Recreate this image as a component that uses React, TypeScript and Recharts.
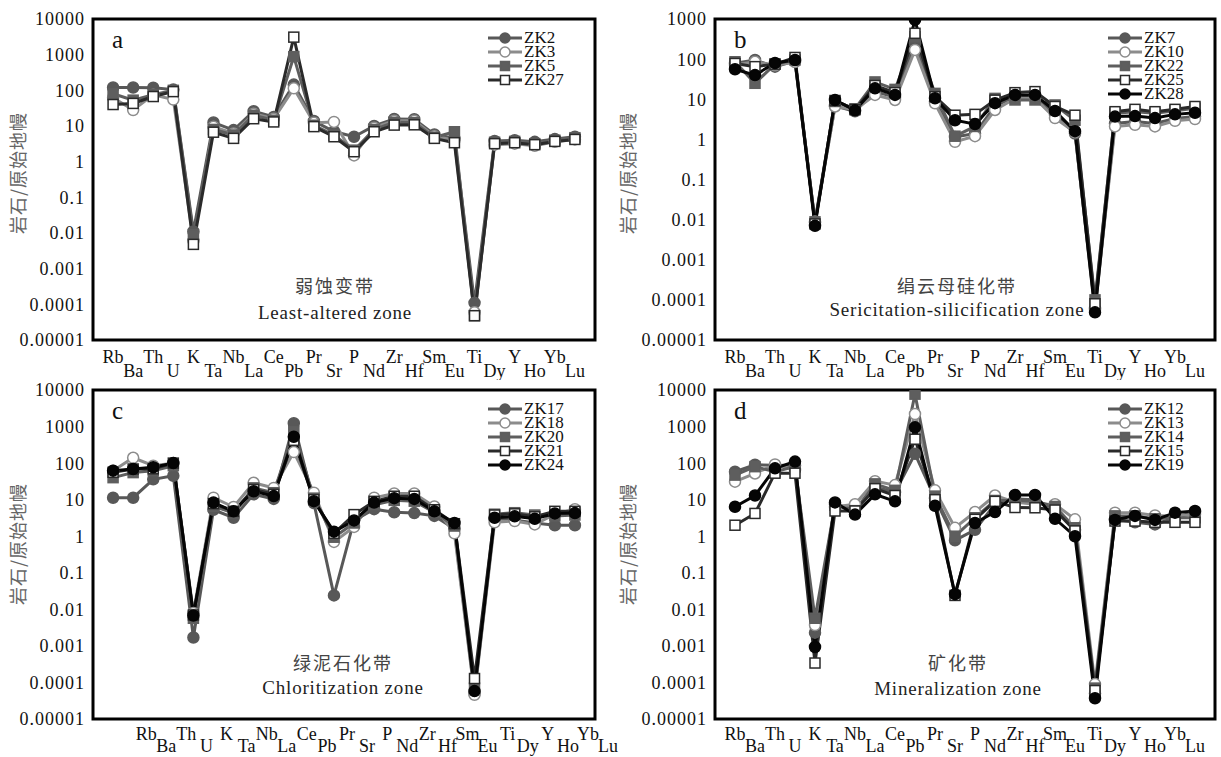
import React from 'react';
import { LineChart, Line, XAxis, YAxis, ReferenceArea } from 'recharts';

const SERIF = '"Liberation Serif", "Times New Roman", serif';
const CJK = '"Noto Sans CJK SC", sans-serif';

// element order on the x axis
const elements = ['Rb', 'Ba', 'Th', 'U', 'K', 'Ta', 'Nb', 'La', 'Ce', 'Pb', 'Pr', 'Sr', 'P', 'Nd', 'Zr', 'Hf', 'Sm', 'Eu', 'Ti', 'Dy', 'Y', 'Ho', 'Yb', 'Lu'];

const yTicks10k = [1e-5, 1e-4, 1e-3, 1e-2, 1e-1, 1, 10, 100, 1000, 10000];
const yLabels10k = ['0.00001', '0.0001', '0.001', '0.01', '0.1', '1', '10', '100', '1000', '10000'];
const yTicks1k = [1e-5, 1e-4, 1e-3, 1e-2, 1e-1, 1, 10, 100, 1000];
const yLabels1k = ['0.00001', '0.0001', '0.001', '0.01', '0.1', '1', '10', '100', '1000'];

// a - least-altered zone
const zk2 = [120, 120, 118, 105, 0.011, 12.5, 7.7, 26, 18, 145, 13.8, 7, 5, 10, 15.8, 15.5, 5.8, 4.5, 1.1e-4, 3.8, 4.0, 3.6, 4.3, 5.0];
const zk3 = [62, 28, 75, 55, 0.006, 9.6, 6.2, 22, 16, 114, 12.3, 13, 1.5, 9, 14, 14, 5.2, 4.0, 6e-5, 3.0, 3.2, 2.8, 3.6, 4.2];
const zk5 = [80, 53, 75, 100, 0.009, 8, 5.6, 20, 14.5, 880, 10.5, 5.6, 2.1, 8, 12.7, 12.5, 4.8, 6.9, 4.8e-5, 3.5, 3.7, 3.2, 4.0, 4.7];
const zk27 = [40, 43, 67, 92, 0.0048, 6.7, 4.5, 16, 13, 3100, 9.6, 5, 1.9, 6.9, 10.6, 10.8, 4.5, 3.4, 4.8e-5, 3.2, 3.4, 3.0, 3.7, 4.2];

// b - sericitation-silicification zone
const zk7 = [79, 95, 65, 90, 0.0085, 6.8, 5.0, 15.5, 11.3, 250, 8.8, 1.15, 1.4, 6.8, 11.5, 12, 4.1, 1.4, 6.2e-5, 2.5, 2.8, 2.5, 3.3, 3.7];
const zk10 = [71, 86, 70, 85, 0.009, 6.6, 5.5, 12.8, 9.6, 170, 7.9, 0.87, 1.2, 5.4, 10.5, 10.5, 3.4, 1.5, 5.7e-5, 2.1, 2.3, 2.1, 2.9, 3.2];
const zk22 = [86, 25, 75, 95, 0.0088, 8.8, 5.8, 27, 17.6, 360, 14, 1.2, 2.1, 10.5, 9.6, 9.6, 7.2, 3.0, 1e-4, 4.5, 4.9, 4.5, 5.2, 6.0];
const zk25 = [78, 65, 75, 110, 0.0078, 9.3, 5.5, 22, 14.6, 440, 11.6, 4.0, 4.2, 9.5, 14.6, 15.5, 6.6, 4.0, 8e-5, 4.9, 5.6, 4.9, 5.6, 6.6];
const zk28 = [56, 40, 80, 95, 0.007, 9.6, 5.3, 18.7, 12.8, 950, 10.6, 3.0, 2.4, 8, 12.8, 12.8, 5.1, 1.6, 4.9e-5, 3.7, 3.8, 3.4, 4.2, 4.6];

// c - chloritization zone
const zk17 = [11.3, 11.3, 36, 45, 0.0017, 5.3, 3.2, 14, 10.5, 1240, 8.1, 0.024, 2.7, 5.5, 4.5, 4.3, 3.6, 1.6, 5e-5, 3.0, 2.8, 2.3, 2.0, 2.0];
const zk18 = [62, 140, 85, 100, 0.008, 11.3, 6.3, 29, 21, 200, 15.5, 0.7, 1.8, 11.3, 14.8, 14.8, 6.5, 1.2, 4.6e-5, 2.4, 2.6, 2.1, 4.0, 5.5];
const zk20 = [40, 55, 62, 85, 0.0057, 6.6, 4.3, 21, 15.5, 720, 11, 0.94, 2.3, 7.3, 9.6, 9.1, 4.5, 1.9, 7e-5, 4.0, 4.4, 3.8, 3.6, 3.8];
const zk21 = [56, 69, 70, 100, 0.007, 7.8, 4.8, 19, 14, 420, 10, 1.2, 3.9, 9, 12.4, 12.4, 5.3, 2.2, 1.28e-4, 3.8, 4.1, 3.4, 4.8, 4.8];
const zk24 = [62, 69, 77, 100, 0.0068, 8.3, 4.8, 17, 12.5, 525, 9.1, 1.33, 2.7, 8.3, 11, 10.5, 4.8, 2.3, 5.8e-5, 3.2, 3.5, 3.0, 4.2, 4.3];

// d - mineralization zone
const zk12 = [58, 90, 88, 86, 0.0023, 7.5, 5.4, 22, 16, 180, 11, 0.77, 1.5, 7.5, 10.5, 10, 5.5, 1.5, 5e-5, 2.9, 2.4, 2.1, 3.2, 4.6];
const zk13 = [31, 52, 92, 65, 0.0037, 6.4, 7.5, 32, 25, 2200, 18, 1.7, 4.6, 13, 8.5, 7.5, 7.5, 2.9, 9e-5, 4.4, 4.4, 3.7, 3.5, 4.0];
const zk14 = [47, 80, 58, 80, 0.0057, 7, 5, 27, 18, 7700, 12.5, 1.0, 3.2, 9.5, 9.5, 9, 6.5, 1.7, 7e-5, 3.6, 3.6, 3.0, 3.2, 3.2];
const zk15 = [2.0, 4.2, 53, 53, 3.4e-4, 4.9, 4.9, 20, 13, 450, 10, 0.024, 2.9, 9, 6.1, 6, 5.2, 1.4, 6e-5, 2.6, 2.6, 2.4, 2.4, 2.4];
const zk19 = [6.4, 13, 72, 110, 9.3e-4, 8.4, 3.9, 14, 9, 950, 6.8, 0.026, 2.3, 4.6, 13.5, 13.5, 3, 1.0, 3.7e-5, 2.8, 3.6, 2.8, 4.4, 4.9];

type Series = { name: string; values: number[]; color: string; shape: 'circle' | 'square'; filled: boolean };

const styles = [
  { color: '#585858', shape: 'circle', filled: true },
  { color: '#8c8c8c', shape: 'circle', filled: false },
  { color: '#5e5e5e', shape: 'square', filled: true },
  { color: '#2a2a2a', shape: 'square', filled: false },
  { color: '#050505', shape: 'circle', filled: true },
] as const;

const mk = (names: string[], vals: number[][]): Series[] =>
  names.map((n, i) => ({ name: n, values: vals[i], ...styles[i] }));

function Marker({ cx, cy, s, r = 5 }: { cx: number; cy: number; s: Series; r?: number }) {
  if (s.shape === 'circle')
    return <circle cx={cx} cy={cy} r={r + 0.5} fill={s.filled ? s.color : '#fff'} stroke={s.color} strokeWidth={1.5} />;
  return <rect x={cx - r} y={cy - r} width={r * 2} height={r * 2} fill={s.filled ? s.color : '#fff'} stroke={s.color} strokeWidth={1.5} />;
}

function minorTicks(lo: number, hi: number) {
  const out: number[] = [];
  for (let e = lo; e < hi; e++) for (let m = 2; m <= 9; m++) out.push(m * Math.pow(10, e));
  return out;
}

interface PanelProps {
  left: number; top: number; width: number; height: number;
  margin: { top: number; right: number; left: number; bottom: number };
  xh: number; rowY: [number, number]; series: Series[]; yTicks: number[]; yLabels: string[]; expHi: number;
  labelShift: number; letter: string; zh: string; en: string;
  noteX: number; noteZhY: number; noteEnY: number;
}

function Panel(p: PanelProps) {
  const rows = elements.map((el, i) => {
    const r: Record<string, number | string> = { x: i, el };
    p.series.forEach((s) => { r[s.name] = s.values[i]; });
    return r;
  });
  const plotLeft = p.left + p.margin.left + 80;
  const plotRight = p.left + p.width - p.margin.right;
  const plotTop = p.top + p.margin.top;
  const dom: [number, number] = [1e-5, Math.pow(10, p.expHi)];
  const idx = elements.map((_, i) => i);
  const renderLabel = (t: any) => (
    <text x={t.x} y={t.y + (t.index % 2 ? p.rowY[1] : p.rowY[0])} textAnchor="middle" fontFamily={SERIF} fontSize={18} fill="#111">
      {elements[t.index]}
    </text>
  );
  return (
    <>
      <div style={{ position: 'absolute', left: p.left, top: p.top }}>
        <LineChart width={p.width} height={p.height} data={rows} margin={p.margin}>
          <XAxis dataKey="x" type="number" domain={[-1, 24]} allowDataOverflow ticks={idx.map((i) => i + p.labelShift)} interval={0}
            height={p.xh} tickLine={false} axisLine={false} tickSize={0} tickMargin={0} tick={renderLabel} />
          <XAxis xAxisId="tk" type="number" domain={[-1, 24]} allowDataOverflow ticks={idx} interval={0} mirror tick={false}
            tickSize={6} axisLine={false} tickLine={{ stroke: '#000', strokeWidth: 1.5 }} />
          <YAxis type="number" scale="log" domain={dom} allowDataOverflow ticks={p.yTicks} interval={0} width={80}
            tickLine={false} axisLine={false} tickSize={0} tickMargin={8}
            tickFormatter={(v: number) => p.yLabels[p.yTicks.indexOf(v)] ?? ''}
            tick={{ fontFamily: SERIF, fontSize: 18, fill: '#111', letterSpacing: 1 }} />
          <YAxis yAxisId="maj" type="number" scale="log" domain={dom} allowDataOverflow ticks={p.yTicks} interval={0} mirror
            tick={false} tickSize={8} axisLine={false} tickLine={{ stroke: '#000', strokeWidth: 2 }} />
          <YAxis yAxisId="min" type="number" scale="log" domain={dom} allowDataOverflow ticks={minorTicks(-5, p.expHi)} interval={0} mirror
            tick={false} tickSize={4} axisLine={false} tickLine={{ stroke: '#000', strokeWidth: 1.5 }} />
          <ReferenceArea x1={-1} x2={24} y1={dom[0]} y2={dom[1]} fill="none" stroke="#000" strokeWidth={3} />
          {p.series.map((s) => (
            <Line key={s.name} dataKey={s.name} type="linear" stroke={s.color} strokeWidth={3} isAnimationActive={false}
              dot={(d: any) => <Marker key={`${s.name}-${d.index}`} cx={d.cx} cy={d.cy} s={s} />} activeDot={false} />
          ))}
        </LineChart>
      </div>
      <div style={{ position: 'absolute', left: plotLeft + 19, top: plotTop + 8, fontFamily: SERIF, fontSize: 25, lineHeight: '25px', color: '#111' }}>
        {p.letter}
      </div>
      <div style={{ position: 'absolute', left: plotRight - 107, top: plotTop + 12 }}>
        {p.series.map((s) => (
          <div key={s.name} style={{ display: 'flex', alignItems: 'center', height: 14 }}>
            <svg width={35} height={14} style={{ overflow: 'visible' }}>
              <line x1={0} x2={34} y1={7} y2={7} stroke={s.color} strokeWidth={3} />
              <Marker cx={17} cy={7} s={s} r={4.5} />
            </svg>
            <span style={{ fontFamily: SERIF, fontSize: 17, lineHeight: '14px', color: '#111', marginLeft: 1 }}>{s.name}</span>
          </div>
        ))}
      </div>
      <div style={{ position: 'absolute', left: p.left + 17, top: plotTop + 154, transform: 'translate(-50%, -50%) rotate(-90deg)',
        fontFamily: CJK, fontSize: 18, color: '#666', whiteSpace: 'nowrap', letterSpacing: 1 }}>
        岩石/原始地幔
      </div>
      <div style={{ position: 'absolute', left: plotLeft + p.noteX, top: plotTop + p.noteZhY, transform: 'translate(-50%, -50%)',
        fontFamily: CJK, fontSize: 18, color: '#444', whiteSpace: 'nowrap', letterSpacing: 2, lineHeight: 1 }}>
        {p.zh}
      </div>
      <div style={{ position: 'absolute', left: plotLeft + p.noteX, top: plotTop + p.noteEnY, transform: 'translate(-50%, -50%)',
        fontFamily: SERIF, fontSize: 19, color: '#222', whiteSpace: 'nowrap', letterSpacing: 0.8, lineHeight: 1 }}>
        {p.en}
      </div>
    </>
  );
}

const seriesA = mk(['ZK2', 'ZK3', 'ZK5', 'ZK27'], [zk2, zk3, zk5, zk27]);
const seriesB = mk(['ZK7', 'ZK10', 'ZK22', 'ZK25', 'ZK28'], [zk7, zk10, zk22, zk25, zk28]);
const seriesC = mk(['ZK17', 'ZK18', 'ZK20', 'ZK21', 'ZK24'], [zk17, zk18, zk20, zk21, zk24]);
const seriesD = mk(['ZK12', 'ZK13', 'ZK14', 'ZK15', 'ZK19'], [zk12, zk13, zk14, zk15, zk19]);

export default function App() {
  const topM = { top: 19, right: 25, left: 13, bottom: 0 };
  const topMR = { top: 19, right: 6, left: 25, bottom: 0 };
  const botM = { top: 10, right: 25, left: 13, bottom: 0 };
  const botMR = { top: 10, right: 6, left: 25, bottom: 0 };
  return (
    <div style={{ position: 'absolute', left: 0, top: 0, width: 1221, height: 757, background: '#fff', overflow: 'hidden' }}>
      <Panel left={0} top={0} width={620} height={380} margin={topM} xh={40} rowY={[23, 37]} series={seriesA} yTicks={yTicks10k} yLabels={yLabels10k}
        expHi={4} labelShift={0} letter="a" zh="弱蚀变带" en="Least-altered zone" noteX={242} noteZhY={266} noteEnY={293} />
      <Panel left={610} top={0} width={611} height={380} margin={topMR} xh={40} rowY={[23, 37]} series={seriesB} yTicks={yTicks1k} yLabels={yLabels1k}
        expHi={3} labelShift={0} letter="b" zh="绢云母硅化带" en="Sericitation-silicification zone" noteX={242} noteZhY={266} noteEnY={290} />
      <Panel left={0} top={380} width={620} height={377} margin={botM} xh={38} rowY={[21, 33]} series={seriesC} yTicks={yTicks10k} yLabels={yLabels10k}
        expHi={4} labelShift={1.65} letter="c" zh="绿泥石化带" en="Chloritization zone" noteX={250} noteZhY={272} noteEnY={297} />
      <Panel left={610} top={380} width={611} height={377} margin={botMR} xh={38} rowY={[21, 33]} series={seriesD} yTicks={yTicks10k} yLabels={yLabels10k}
        expHi={4} labelShift={0} letter="d" zh="矿化带" en="Mineralization zone" noteX={243} noteZhY={272} noteEnY={298} />
    </div>
  );
}
